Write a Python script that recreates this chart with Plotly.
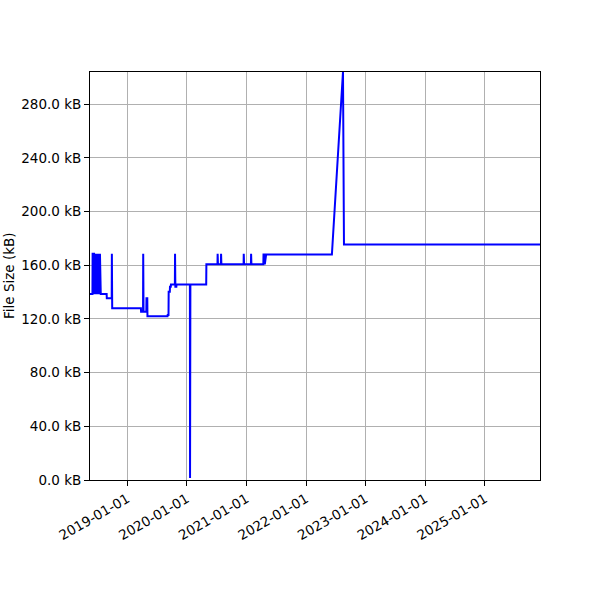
import plotly.graph_objects as go

# file size history (kB)
dates = [
    "2018-05-18", "2018-06-02", "2018-06-03", "2018-06-12", "2018-06-13",
    "2018-06-18", "2018-06-24", "2018-06-28", "2018-07-04", "2018-07-08",
    "2018-07-14", "2018-07-18", "2018-07-23", "2018-08-28", "2018-08-29",
    "2018-09-28", "2018-09-29", "2018-10-01", "2019-03-26", "2019-03-27",
    "2019-04-08", "2019-04-09", "2019-04-11", "2019-04-28", "2019-04-29",
    "2019-05-04", "2019-05-05", "2019-09-05", "2019-09-06", "2019-09-11",
    "2019-09-12", "2019-09-19", "2019-09-20", "2019-09-25", "2019-09-26",
    "2019-10-20", "2019-10-21", "2019-10-23", "2019-10-29", "2019-10-30",
    "2020-01-20", "2020-01-21", "2020-01-23", "2020-04-29", "2020-04-30",
    "2020-07-07", "2020-07-08", "2020-07-10", "2020-07-28", "2020-07-29",
    "2020-07-31", "2020-12-14", "2020-12-15", "2020-12-17", "2021-01-28",
    "2021-01-29", "2021-01-31", "2021-04-14", "2021-04-15", "2021-04-22",
    "2021-04-23", "2021-05-01", "2022-06-08", "2022-08-15", "2022-08-21",
    "2025-12-04",
]
sizes_kb = [
    138.5, 138.5, 168.5, 168.5, 138.5,
    168.5, 138.5, 168.5, 138.5, 168.5,
    138.5, 168.5, 138.5, 138.5, 135.5,
    135.5, 168.5, 128.0, 128.0, 125.3,
    125.3, 168.5, 125.3, 125.3, 135.5,
    135.5, 122.0, 122.0, 123.0, 123.0,
    140.2, 140.2, 144.0, 144.0, 145.7,
    145.7, 168.5, 144.0, 144.0, 145.7,
    145.7, 1.5, 145.7, 145.7, 160.7,
    160.7, 168.5, 160.7, 160.7, 168.5,
    160.7, 160.7, 168.5, 160.7, 160.7,
    168.5, 160.7, 160.7, 168.0, 168.0,
    160.7, 168.0, 168.0, 304.0, 175.5,
    175.5,
]

y_ticks = [0, 40, 80, 120, 160, 200, 240, 280]
y_labels = [f"{v:.1f} kB" for v in y_ticks]
x_ticks = ["2019-01-01", "2020-01-01", "2021-01-01", "2022-01-01",
           "2023-01-01", "2024-01-01", "2025-01-01"]

fig = go.Figure()
fig.add_trace(go.Scatter(x=dates, y=sizes_kb, mode="lines",
                         line=dict(color="blue", width=2), showlegend=False))

fig.update_layout(
    width=600, height=600,
    margin=dict(l=90, r=60, t=72, b=120),
    plot_bgcolor="white", paper_bgcolor="white",
    font=dict(family="DejaVu Sans", size=13.5, color="black"),
)
fig.update_xaxes(
    range=[dates[0], dates[-1]], tickvals=x_ticks, tickformat="%Y-%m-%d",
    tickangle=-30, showgrid=True, gridcolor="#b0b0b0", gridwidth=1,
    showline=True, linecolor="black", linewidth=1, mirror=True,
    ticks="outside", ticklen=5, tickcolor="black", zeroline=False,
    automargin=False,
)
fig.update_yaxes(
    range=[0, 304], tickvals=y_ticks, ticktext=y_labels,
    showgrid=True, gridcolor="#b0b0b0", gridwidth=1,
    showline=True, linecolor="black", linewidth=1, mirror=True,
    ticks="outside", ticklen=5, tickcolor="black", zeroline=False,
    automargin=False,
)
# y axis title as annotation so it sits left of the tick labels
fig.add_annotation(text="File Size (kB)", xref="paper", yref="paper",
                   x=-0.18, y=0.5, textangle=-90, showarrow=False,
                   xanchor="center", yanchor="middle", font=dict(size=13.5))

# drop the default body margin so the figure sits at the page corner
fig.write_html("out.html", config={"displayModeBar": False},
               post_script="document.body.style.margin='0';")
